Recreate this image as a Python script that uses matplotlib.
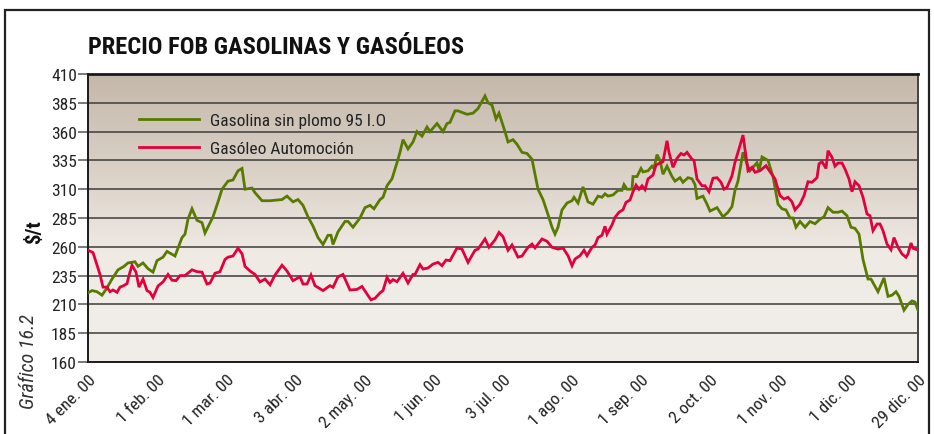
import matplotlib
matplotlib.use("Agg")
import matplotlib.pyplot as plt
import numpy as np
from matplotlib.colors import LinearSegmentedColormap
from matplotlib.patches import Rectangle

# Sesiones de cotización (0 = 4 ene. 00, 249 = 29 dic. 00) y precios en $/t
sesion_gasolina = [0, 1.2, 2.7, 4.2, 5.4, 7.2, 9, 10.8, 12, 14.1, 15, 16.5, 18, 19.5, 20.7, 22.5, 23.7, 26.1,
                   28.2, 29.1, 30, 31.2, 32.7, 34.2, 35.1, 37.5, 39, 40.2, 42, 43.5, 45, 46.2, 47.1, 49.2, 50.1,
                   52.2, 54.6, 58.2, 59.7, 61.5, 63, 64.5, 66, 67.5, 69, 70.5, 72, 72.9, 73.5, 75, 77.1, 78, 79.5,
                   81.6, 83.1, 84.6, 85.8, 87.6, 88.5, 89.7, 91.2, 92.7, 93.6, 94.5, 96, 97.5, 98.7, 100.2, 101.7,
                   102.6, 104.7, 106.5, 107.7, 108.6, 110.1, 111, 113.7, 115.5, 117, 119.1, 120, 121.2, 122.4,
                   123.3, 125.1, 126, 127.5, 128.7, 130.2, 131.7, 133.2, 134.1, 135, 136.5, 138, 139.2, 140.1, 141,
                   142.2, 143.7, 145.2, 145.8, 147, 148.5, 150, 151.5, 153, 154.2, 155.1, 156, 157.5, 159, 160.2,
                   160.8, 161.7, 163.2, 163.5, 164.7, 165.9, 166.5, 168, 169.2, 169.8, 170.7, 171.6, 172.5, 173.7,
                   175.2, 176.1, 177.6, 178.5, 180, 181.2, 182.1, 182.7, 184.5, 185.7, 186.6, 188.7, 190.5, 192,
                   193.2, 194.1, 195, 196.5, 197.7, 198.6, 200.7, 201.3, 202.2, 204, 205.5, 207, 208.2, 209.4,
                   210.6, 211.5, 212.4, 213.6, 215.1, 216.6, 218.1, 219.6, 220.8, 222, 223.5, 225, 226.2, 227.7,
                   228.9, 230.1, 231.3, 232.5, 234, 234.9, 237, 238.8, 240, 241.2, 242.4, 243.3, 244.8, 246, 247.2,
                   248.1, 249]
gasolina = [220, 222, 221, 218, 223, 232, 240, 243, 246, 247, 243, 246, 241, 238, 248, 251, 256, 252,
            268, 271, 284, 293, 283, 281, 272, 286, 299, 310, 317, 318, 326, 328, 310, 311, 307,
            300, 300, 301, 304, 299, 301, 296, 286, 278, 268, 262, 270, 270, 262, 273, 282, 282, 277,
            285, 294, 296, 293, 301, 303, 313, 319, 333, 342, 353, 345, 351, 360, 356, 364,
            360, 367, 360, 367, 368, 378, 378, 375, 376, 380, 391, 385, 383, 371,
            376, 360, 351, 353, 349, 342, 341, 336, 323, 310, 301, 288, 277, 271, 277,
            292, 298, 300, 303, 298, 312, 299, 297, 304, 303, 306, 304, 305, 309, 309,
            314, 310, 310, 321, 321, 328, 325, 326, 330, 328, 340, 335, 323, 330,
            321, 317, 320, 316, 320, 319, 314, 302, 304, 297, 291, 294, 286, 290,
            295, 309, 317, 342, 332, 326, 333, 326, 338, 335, 321, 297, 293, 292,
            285, 285, 277, 282, 277, 282, 280, 284, 286, 294, 290, 290, 291, 287,
            277, 276, 271, 249, 232, 232, 221, 233, 217, 218, 221, 217, 205, 210, 213,
            212, 205]

sesion_gasoleo = [0, 1.5, 2.7, 3.6, 4.5, 5.7, 6.6, 7.5, 8.7, 9.6, 10.5, 11.7, 12.3, 13.2, 14.4, 15.3, 16.5, 17.7,
                  18.6, 19.5, 21, 22.5, 24, 25.2, 26.4, 27.6, 29.1, 31.2, 32.7, 34.2, 35.7, 36.6, 38.1, 39.6, 41.1,
                  42, 43.5, 45, 46.2, 47.1, 48.6, 50.1, 51.6, 53.1, 54.6, 56.1, 58.2, 59.7, 61.5, 63.6, 64.5, 65.7,
                  66.9, 68.1, 70.5, 72.6, 73.5, 75, 76.5, 78.6, 80.7, 82.2, 83.7, 84.9, 86.1, 87.6, 88.5, 89.7,
                  90.6, 91.5, 92.7, 94.5, 96, 97.5, 98.1, 99.6, 100.5, 102, 103.5, 105, 106.2, 107.4, 108.6, 110.7,
                  112.2, 114, 116.1, 117, 119.1, 120.3, 122.1, 123.3, 124.5, 126, 127.2, 129, 130.2, 132, 133.2,
                  134.1, 136.2, 137.7, 139.2, 141, 142.5, 144, 145.2, 146.1, 147.6, 148.8, 149.7, 151.2, 152.1,
                  153, 154.2, 155.1, 155.7, 157.2, 158.1, 159.3, 160.5, 161.4, 162.6, 163.5, 164.4, 165.3, 166.2,
                  167.1, 168, 169.5, 170.4, 171.6, 172.5, 173.7, 174.3, 175.5, 176.7, 177.9, 178.8, 179.7, 181.2,
                  181.8, 182.7, 184.2, 185.1, 186.3, 187.5, 188.7, 189.9, 190.8, 191.7, 193.2, 194.1, 195.3, 196.5,
                  198, 199.2, 200.1, 201.6, 203.4, 204.6, 206.1, 207.6, 208.8, 210, 211.2, 212.1, 213.6, 214.8,
                  216, 217.2, 218.7, 219.3, 220.2, 221.4, 222, 223.2, 224.1, 225, 226.2, 227.1, 228.3, 229.2,
                  230.1, 231.3, 232.5, 233.7, 234.6, 235.5, 236.7, 237.6, 238.5, 239.7, 240.9, 241.8, 243, 244.2,
                  245.4, 246, 246.9, 247.5, 249]
gasoleo = [257, 255, 244, 236, 225, 225, 221, 222.5, 220.5, 225, 226, 228, 235, 244, 238, 225, 232, 222,
           220.5, 216, 226, 229.5, 236, 231, 230.6, 235, 235, 240, 238.4, 238, 227.7, 228.5, 237, 238.4, 249,
           251, 252, 258.7, 254, 243, 239, 236, 229.5, 232, 227, 235.5, 244, 239, 230.6, 234, 227.7, 227.7,
           235.5, 226.3, 222, 226.3, 224.8, 234, 236, 222.5, 223, 225.6, 219, 214, 215.3, 220, 222, 233.5,
           229, 231.5, 229.7, 237, 228.6, 236, 236, 244.5, 240.7, 241.6, 245, 246.5, 243.6, 248.5, 248, 259,
           258, 246.5, 257, 258, 266.8, 259.6, 266, 272.5, 268.8, 257, 261.6, 251, 252, 259.6, 262.4,
           259, 266.8, 264.8, 259.6, 258, 259, 252.3, 243.6, 249.4, 252.3, 257, 252.3, 259.6, 261.6,
           268, 270, 277.8, 271, 279, 285.6, 290, 292.2, 298.6, 300.6, 307.8, 313.6, 310, 313,
           309.6, 318.9, 322.3, 331, 332.7, 333.9, 352, 342, 329, 336.8, 341, 339.7, 342, 336,
           335, 318.9, 313, 313, 307.8, 319.5, 320, 316, 310, 311.6, 321.7, 333.4, 345, 357,
           326, 329, 324.7, 326, 330.4, 325.2, 319, 304.4, 301.5, 303, 299, 292, 297, 304.4,
           316.5, 316, 320, 332, 334, 328, 343.4, 337.7, 330, 332.7, 332.7, 327.5, 318.9, 307.8,
           316.5, 313, 303, 288.5, 287, 274, 279.8, 279.8, 274, 262.4, 257.5, 268, 259.6, 253.8,
           250.9, 253.8, 263.3, 258.7, 257.2]

etiquetas_fecha = ["4 ene. 00", "1 feb. 00", "1 mar. 00", "3 abr. 00", "2 may. 00", "1 jun. 00",
                   "3 jul. 00", "1 ago. 00", "1 sep. 00", "2 oct. 00", "1 nov. 00", "1 dic. 00", "29 dic. 00"]
total_sesiones = 249
marcas_y = list(range(160, 411, 25))

COND = ["Roboto Condensed", "DejaVu Sans"]
VERDE = "#587a00"
ROJO = "#e2003d"

fig = plt.figure(figsize=(9.34, 4.35), dpi=100)
fig.patch.set_facecolor("white")

# marco exterior de la ficha
fig.patches.append(Rectangle((5 / 934, -0.05), 924 / 934, 1.05 - 11 / 435,
                             transform=fig.transFigure, fill=False, edgecolor="#222222",
                             linewidth=1.6, clip_on=False))

ax = fig.add_axes([88 / 934, (435 - 363) / 435, 830 / 934, 288 / 435])

# fondo degradado del área de trazado
grad = LinearSegmentedColormap.from_list(
    "fondo", [(0.0, "#c4b8aa"), (0.35, "#dbd2c8"), (0.62, "#efeae4"), (1.0, "#f1eeea")])
ax.imshow(np.linspace(0, 1, 256).reshape(-1, 1), cmap=grad, aspect="auto",
          extent=[0, 1, 0, 1], transform=ax.transAxes, zorder=0, origin="upper")

ax.set_xlim(0, total_sesiones)
ax.set_ylim(160, 410)

for v in marcas_y[1:-1]:
    ax.axhline(v, color="#3c3c3c", linewidth=1.1, zorder=1)

ax.plot(sesion_gasolina, gasolina, color=VERDE, linewidth=2.0, zorder=3,
        label="Gasolina sin plomo 95 I.O", solid_joinstyle="miter")
ax.plot(sesion_gasoleo, gasoleo, color=ROJO, linewidth=2.0, zorder=3,
        label="Gasóleo Automoción", solid_joinstyle="miter")

ax.set_yticks(marcas_y)
ax.set_yticklabels([str(v) for v in marcas_y], family=COND, fontsize=12.5, color="#222222")
ax.tick_params(axis="y", length=7, width=1.1, color="#555555", pad=1)

ax.set_xticks(np.linspace(0, total_sesiones, len(etiquetas_fecha)))
ax.set_xticklabels(etiquetas_fecha, rotation=45, ha="right", va="top",
                   rotation_mode="anchor", family=COND, fontsize=12.5, color="#222222")
ax.tick_params(axis="x", length=0, pad=7)

for lado, sp in ax.spines.items():
    sp.set_color("#1a1a1a")
    sp.set_linewidth(1.4)
ax.spines["top"].set_linewidth(2.0)
ax.spines["right"].set_color("#444444")

leg = ax.legend(loc="upper left", bbox_to_anchor=(0.043, 0.92), frameon=False,
                prop={"family": COND, "size": 12.5}, handlelength=3.45, handletextpad=0.65,
                labelspacing=0.75)
for t in leg.get_texts():
    t.set_color("#222222")

fig.text(88 / 934, 1 - 47 / 435, "PRECIO FOB GASOLINAS Y GASÓLEOS", family=COND,
         fontsize=17.6, fontweight="bold", color="#111111", ha="left", va="center")
fig.text(35 / 934, 1 - 232 / 435, "$/t", family=COND, fontsize=15, fontweight="bold",
         rotation=90, ha="center", va="center", color="#111111")
fig.text(29 / 934, 1 - 362 / 435, "Gráfico 16.2", family=COND, fontsize=14.5, style="italic",
         rotation=90, ha="center", va="center", color="#333333")

fig.savefig("out.png", dpi=100)
